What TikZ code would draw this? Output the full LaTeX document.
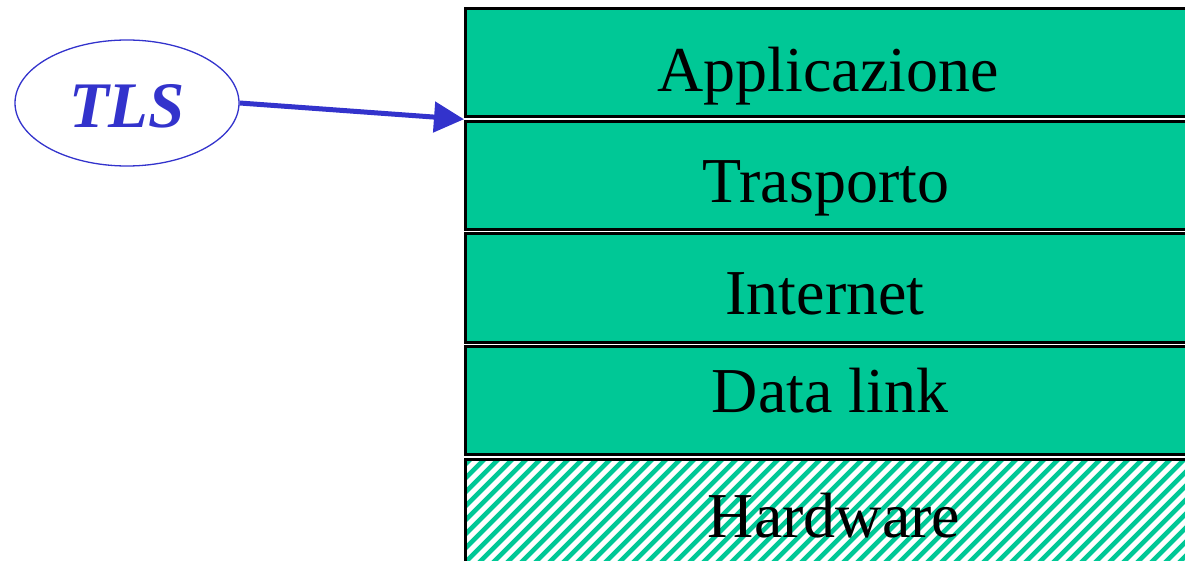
\documentclass[tikz,border=0pt]{standalone}
\usepackage{fontspec}
\setmainfont{Liberation Serif}
\usetikzlibrary{arrows.meta,shapes.geometric,calc}
\definecolor{layer}{RGB}{0,200,150}
\definecolor{tlsblue}{RGB}{51,51,204}
\begin{document}
\begin{tikzpicture}[x=1pt,y=-1pt,
  layerbox/.style={draw=black, line width=3pt, fill=layer, minimum width=728pt, minimum height=108pt, inner sep=0pt, anchor=north west},
  hatchbox/.style={draw=black, line width=3pt, fill=white, minimum width=728pt, minimum height=108pt, inner sep=0pt, anchor=north west,
    path picture={\foreach \k in {0,...,70}{\draw[layer,line width=4.6pt] ([xshift=\k*14pt-150pt,yshift=-5pt]path picture bounding box.south west) -- ++(150pt,150pt);}}},
  layertext/.style={font=\fontsize{64}{64}\selectfont, anchor=base, inner sep=0pt},
  tlsshape/.style={ellipse, draw=tlsblue, line width=1.3pt, minimum width=224pt, minimum height=126pt, inner sep=0pt},
  tlstext/.style={font=\fontsize{65}{65}\selectfont\bfseries\itshape, text=tlsblue, anchor=base, inner sep=0pt},
  tlsarrow/.style={draw=tlsblue, line width=5pt, -{Triangle[length=30pt,width=30pt]}}
]
\useasboundingbox (0,0) rectangle (1185,561);
\clip (0,0) rectangle (1185,561);
\node[layerbox] (app) at (464,7.5) {};
\node[layerbox] (tra) at (464,120) {};
\node[layerbox] (int) at (464,232.5) {};
\node[layerbox] (dat) at (464,345) {};
\node[hatchbox] (hw) at (464,457.5) {};
\node[layertext] (appt) at (828,92) {Applicazione};
\node[layertext] (trat) at (826,203) {Trasporto};
\node[layertext] (intt) at (825,314) {Internet};
\node[layertext] (datt) at (830,412) {Data link};
\node[layertext] (hwt) at (834,537) {Hardware};
\node[tlsshape] (tls) at (127,103) {};
\node[tlstext] (tlst) at (127,128) {TLS};
\coordinate (tip) at ($(app.south west)!0.5!(tra.north west)$);
\draw[tlsarrow] (tls.east) -- (tip);
\end{tikzpicture}
\end{document}
